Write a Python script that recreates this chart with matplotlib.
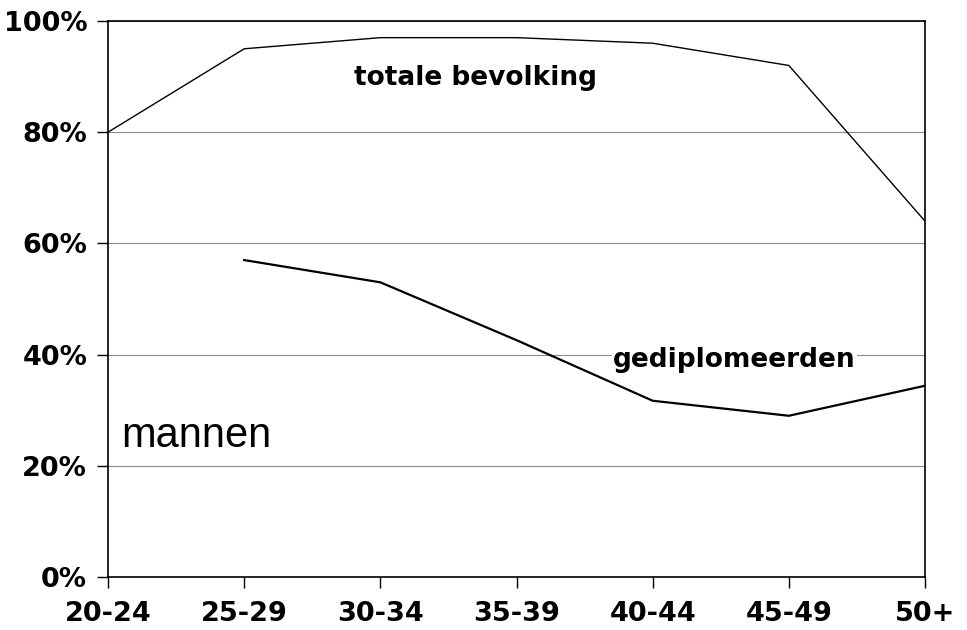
import numpy as np
import matplotlib.pyplot as plt
from matplotlib.ticker import PercentFormatter

# age groups and shares (percent)
categories = ["20-24", "25-29", "30-34", "35-39", "40-44", "45-49", "50+"]
totale_bevolking = [80, 95, 97, 97, 96, 92, 64]
gediplomeerden = [np.nan, 57, 53, 42.6, 31.7, 29, 34.4]

plt.rcParams['font.family'] = ['DejaVu Sans']

fig = plt.figure(figsize=(9.67, 6.3), dpi=100)
ax = fig.add_axes([0.1117, 0.0841, 0.8449, 0.8826])

x = np.arange(len(categories))
ax.plot(x, totale_bevolking, color='black', linewidth=1.0)
ax.plot(x, gediplomeerden, color='black', linewidth=1.6)

ax.set_xlim(0, len(categories) - 1)
ax.set_ylim(0, 100)
ax.set_xticks(x)
ax.set_xticklabels(categories)
ax.set_yticks([0, 20, 40, 60, 80, 100])
ax.yaxis.set_major_formatter(PercentFormatter(decimals=0))

# horizontal gridlines
ax.yaxis.grid(True, color='#8c8c8c', linewidth=0.8)
ax.set_axisbelow(True)

for s in ax.spines.values():
    s.set_color('black')
    s.set_linewidth(1.2)

ax.tick_params(axis='both', direction='out', length=8, width=1.0,
               labelsize=19.5)
ax.tick_params(axis='y', pad=7)
ax.tick_params(axis='x', pad=9)
for lbl in ax.get_xticklabels() + ax.get_yticklabels():
    lbl.set_fontweight('bold')

# series labels
ax.text(2.70, 88.5, "totale bevolking", fontsize=19, fontweight='bold',
        ha='center', va='baseline')
ax.text(4.60, 37.8, "gediplomeerden", fontsize=19, fontweight='bold',
        ha='center', va='baseline',
        bbox=dict(facecolor='white', edgecolor='none', pad=1))
ax.text(0.10, 23.4, "mannen", fontsize=30, family='Liberation Sans',
        ha='left', va='baseline')

fig.savefig("out.png", dpi=100)
